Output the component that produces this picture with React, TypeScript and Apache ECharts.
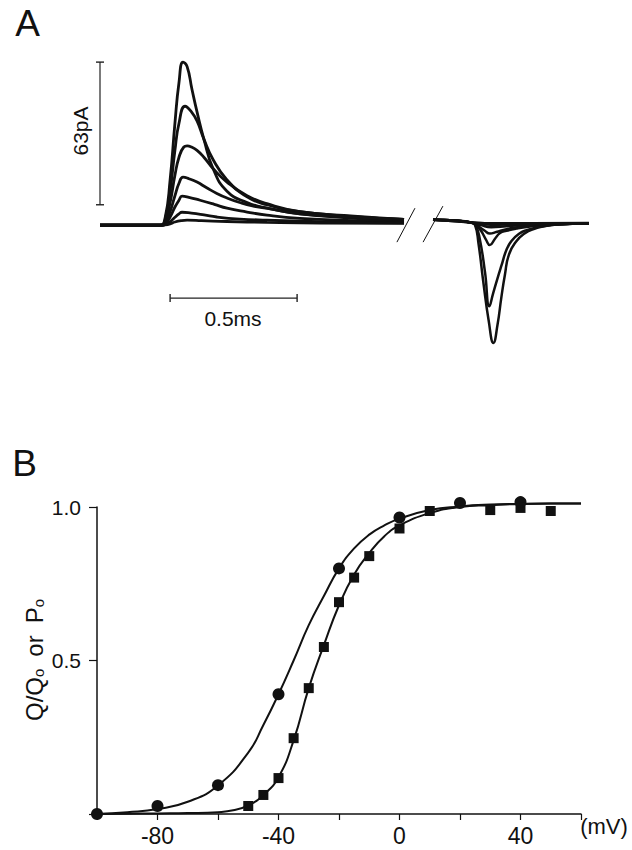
import React, { useEffect, useRef } from 'react';
import * as echarts from 'echarts';

const FONT = '"Liberation Sans", Arial, Helvetica, sans-serif';
const INK = '#111111';

// ---------- Panel A: gating current traces (time in ms, current in pA) ----------
const onTrace1 = [[0, 0], [0.236, 0], [0.256, 3], [0.276, 20], [0.295, 45], [0.311, 63], [0.327, 72], [0.343, 70], [0.362, 60], [0.382, 50], [0.409, 38], [0.445, 25], [0.5, 15], [0.579, 10], [0.657, 7.5], [0.787, 5], [1.0, 3], [1.197, 2]];
const onTrace2 = [[0, 0], [0.24, 0], [0.256, 2.2], [0.276, 15], [0.295, 33], [0.311, 45], [0.335, 52.5], [0.36, 50], [0.382, 46], [0.409, 38], [0.445, 29], [0.5, 20], [0.579, 12.5], [0.657, 9], [0.787, 6], [1.0, 3.8], [1.197, 2.5]];
const onTrace3 = [[0, 0], [0.244, 0], [0.256, 1.4], [0.276, 10], [0.295, 22], [0.311, 30], [0.33, 34.5], [0.343, 35], [0.36, 34.5], [0.382, 33], [0.409, 30], [0.445, 25], [0.5, 19], [0.579, 13], [0.657, 9.5], [0.787, 6], [1.0, 4], [1.197, 2.5]];
const onTrace4 = [[0, 0], [0.244, 0], [0.256, 0.8], [0.276, 6], [0.295, 13], [0.311, 18.5], [0.327, 21.2], [0.35, 20.5], [0.382, 19], [0.42, 16.5], [0.46, 14], [0.5, 12], [0.55, 10], [0.6, 8.5], [0.657, 7.5], [0.787, 5], [1.0, 3.5], [1.197, 2.5]];
const onTrace5 = [[0, 0], [0.244, 0], [0.256, 0.5], [0.276, 3.6], [0.295, 8], [0.311, 11], [0.323, 12.8], [0.35, 12.3], [0.394, 11], [0.45, 9.2], [0.5, 7.5], [0.579, 5.8], [0.657, 4.4], [0.787, 3], [1.0, 2], [1.197, 1.5]];
const onTrace6 = [[0, 0], [0.244, 0], [0.256, 0.2], [0.276, 1.6], [0.295, 3.5], [0.311, 5], [0.323, 5.7], [0.36, 5.3], [0.41, 4.5], [0.46, 3.6], [0.55, 2.7], [0.657, 2.2], [0.866, 1.5], [1.197, 1]];
const onTrace7 = [[0, 0], [0.244, 0], [0.256, 0.1], [0.276, 0.6], [0.295, 1.4], [0.32, 2], [0.343, 2.2], [0.4, 2], [0.5, 1.6], [0.657, 1.2], [0.866, 0.9], [1.197, 0.8]];

const offTrace1 = [[1.311, 2.4], [1.4, 2], [1.46, 1.2], [1.476, 0.3], [1.49, -8], [1.509, -25], [1.53, -42], [1.549, -52], [1.565, -44], [1.58, -32], [1.594, -22], [1.61, -13], [1.64, -7], [1.67, -3.8], [1.705, -1.8], [1.76, -0.3], [1.8, 0.3], [1.86, 0.6], [1.925, 0.7]];
const offTrace2 = [[1.311, 2.4], [1.4, 2], [1.46, 1.2], [1.478, 0], [1.495, -6], [1.516, -21], [1.533, -35.8], [1.548, -30], [1.565, -23.5], [1.581, -17.7], [1.6, -11], [1.62, -7], [1.65, -3.8], [1.68, -2.2], [1.72, -1], [1.772, 0], [1.85, 0.6], [1.925, 0.7]];
const offTrace3 = [[1.311, 2.4], [1.4, 2], [1.46, 1.2], [1.48, 0], [1.5, -2.5], [1.52, -6.5], [1.535, -8.8], [1.555, -6], [1.575, -3.5], [1.6, -2.5], [1.64, -1.5], [1.7, -0.5], [1.78, 0.3], [1.925, 0.7]];
const offTrace4 = [[1.311, 2.4], [1.4, 2], [1.46, 1.2], [1.49, -0.5], [1.515, -2.5], [1.535, -3.7], [1.56, -3], [1.6, -1.8], [1.65, -0.8], [1.72, 0], [1.8, 0.4], [1.925, 0.7]];
const offTrace5 = [[1.311, 2.4], [1.4, 2], [1.46, 1.2], [1.5, 0], [1.54, -0.9], [1.6, -0.5], [1.7, 0.2], [1.8, 0.5], [1.925, 0.7]];
const offTrace6 = [[1.311, 2.4], [1.46, 1.2], [1.54, 0.2], [1.65, 0.5], [1.925, 0.8]];
const offTrace7 = [[1.311, 2.4], [1.46, 1.3], [1.54, 0.8], [1.7, 0.8], [1.925, 0.9]];

const onTraces = [onTrace1, onTrace2, onTrace3, onTrace4, onTrace5, onTrace6, onTrace7];
const offTraces = [offTrace1, offTrace2, offTrace3, offTrace4, offTrace5, offTrace6, offTrace7];

// scale bars (63 pA, 0.5 ms) and axis break marks, in data units
const currentBar = [[0, 9], [0, 72]];
const timeBar = [[0.276, -32.2], [0.776, -32.2]];
const breakMark1 = [[1.169, -7.5], [1.24, 7.5]];
const breakMark2 = [[1.272, -7.5], [1.35, 8.4]];

// ---------- Panel B: charge (circles) and open probability (squares) vs voltage ----------
const circleV = [-100, -80, -60, -40, -20, 0, 20, 40];
const circleQ = [0.0, 0.026, 0.094, 0.39, 0.8, 0.966, 1.013, 1.016];
const squareV = [-50, -45, -40, -35, -30, -25, -20, -15, -10, 0, 10, 30, 40, 50];
const squareP = [0.026, 0.062, 0.117, 0.247, 0.41, 0.544, 0.69, 0.77, 0.84, 0.93, 0.987, 0.99, 0.997, 0.987];

const circleFitV = [-100, -90, -80, -70, -60, -50, -45, -40, -35, -30, -25, -20, -15, -10, -5, 0, 10, 20, 30, 40, 50, 60];
const circleFitQ = [0.0, 0.006, 0.016, 0.04, 0.093, 0.2, 0.29, 0.39, 0.5, 0.615, 0.71, 0.8, 0.865, 0.91, 0.94, 0.962, 0.99, 1.002, 1.008, 1.01, 1.011, 1.011];
const squareFitV = [-100, -90, -80, -70, -60, -55, -50, -45, -40, -35, -30, -25, -20, -15, -10, -5, 0, 10, 20, 30, 40, 50, 60];
const squareFitP = [0.0, 0.001, 0.002, 0.003, 0.006, 0.012, 0.028, 0.062, 0.12, 0.24, 0.41, 0.55, 0.68, 0.78, 0.85, 0.905, 0.94, 0.98, 1.0, 1.006, 1.01, 1.011, 1.011];

const xTickLabels = [-80, -40, 0, 40];
const yTickLabels: Record<string, string> = { '0.5': '0.5', '1': '1.0' };

const zip = (xs: number[], ys: number[]) => xs.map((x, i) => [x, ys[i]]);

export default function App() {
  const ref = useRef<HTMLDivElement>(null);

  useEffect(() => {
    if (!ref.current) return;
    const chart = echarts.init(ref.current, undefined, { renderer: 'svg' });

    const traceSeries = [...onTraces, ...offTraces].map((d, i) => ({
      type: 'line',
      xAxisIndex: 0,
      yAxisIndex: 0,
      data: d,
      symbol: 'none',
      smooth: 0.5,
      lineStyle: { color: INK, width: i < onTraces.length ? 2.8 : 2.5 },
      silent: true,
    }));

    const textBase = { fontFamily: FONT, fill: INK };

    chart.setOption({
      animation: false,
      backgroundColor: '#ffffff',
      grid: [
        { left: 100, top: 44, width: 508, height: 317, containLabel: false, outerBoundsMode: 'none' },
        { left: 97, right: 51, top: 507, bottom: 36, containLabel: false, outerBoundsMode: 'none' },
      ],
      xAxis: [
        { gridIndex: 0, type: 'value', min: 0, max: 2, show: false },
        {
          gridIndex: 1,
          type: 'value',
          min: -100,
          max: 60,
          interval: 20,
          axisLine: { show: true, onZero: false, lineStyle: { color: INK, width: 1.5 } },
          axisTick: { show: true, length: 6, lineStyle: { color: INK, width: 1.2 } },
          splitLine: { show: false },
          axisLabel: {
            margin: 10,
            fontSize: 23,
            fontFamily: FONT,
            color: INK,
            formatter: (v: number) => (xTickLabels.includes(v) ? String(v) : ''),
          },
        },
      ],
      yAxis: [
        { gridIndex: 0, type: 'value', min: -60, max: 80, show: false },
        {
          gridIndex: 1,
          type: 'value',
          min: 0,
          max: 1,
          interval: 0.5,
          axisLine: { show: true, onZero: false, lineStyle: { color: INK, width: 1.5 } },
          axisTick: { show: true, length: 8, lineStyle: { color: INK, width: 1.2 } },
          splitLine: { show: false },
          axisLabel: {
            margin: 16,
            fontSize: 21,
            fontFamily: FONT,
            color: INK,
            formatter: (v: number) => yTickLabels[String(v)] || '',
          },
        },
      ],
      series: [
        ...traceSeries,
        {
          type: 'line', xAxisIndex: 0, yAxisIndex: 0, data: currentBar,
          symbol: 'rect', symbolSize: [8, 1.4], showSymbol: true,
          lineStyle: { color: '#222', width: 1.2 }, itemStyle: { color: '#222' }, silent: true,
        },
        {
          type: 'line', xAxisIndex: 0, yAxisIndex: 0, data: timeBar,
          symbol: 'rect', symbolSize: [1.4, 8], showSymbol: true,
          lineStyle: { color: '#222', width: 1.2 }, itemStyle: { color: '#222' }, silent: true,
        },
        {
          type: 'line', xAxisIndex: 0, yAxisIndex: 0, data: breakMark1, symbol: 'none',
          lineStyle: { color: INK, width: 1 }, silent: true,
        },
        {
          type: 'line', xAxisIndex: 0, yAxisIndex: 0, data: breakMark2, symbol: 'none',
          lineStyle: { color: INK, width: 1 }, silent: true,
        },
        {
          type: 'line', xAxisIndex: 1, yAxisIndex: 1, data: zip(circleFitV, circleFitQ),
          symbol: 'none', smooth: 0.5, clip: false,
          lineStyle: { color: INK, width: 2 }, silent: true,
        },
        {
          type: 'line', xAxisIndex: 1, yAxisIndex: 1, data: zip(squareFitV, squareFitP),
          symbol: 'none', smooth: 0.5, clip: false,
          lineStyle: { color: INK, width: 2 }, silent: true,
        },
        {
          type: 'scatter', xAxisIndex: 1, yAxisIndex: 1, data: zip(squareV, squareP),
          symbol: 'rect', symbolSize: 10, clip: false, itemStyle: { color: INK, opacity: 1 }, silent: true,
        },
        {
          type: 'scatter', xAxisIndex: 1, yAxisIndex: 1, data: zip(circleV, circleQ),
          symbol: 'circle', symbolSize: 12, clip: false, itemStyle: { color: INK, opacity: 1 }, silent: true,
        },
      ],
      graphic: [
        { type: 'text', x: 27.5, y: 23.5, style: { ...textBase, text: 'A', fontSize: 37, align: 'center', verticalAlign: 'middle' } },
        { type: 'text', x: 24.5, y: 463.5, style: { ...textBase, text: 'B', fontSize: 37, align: 'center', verticalAlign: 'middle' } },
        { type: 'text', x: 80.5, y: 131, rotation: Math.PI / 2, style: { ...textBase, text: '63pA', fontSize: 21, align: 'center', verticalAlign: 'middle' } },
        { type: 'text', x: 233, y: 318, style: { ...textBase, text: '0.5ms', fontSize: 21, align: 'center', verticalAlign: 'middle' } },
        { type: 'text', x: 604, y: 826, style: { ...textBase, text: '(mV)', fontSize: 22, align: 'center', verticalAlign: 'middle' } },
        {
          type: 'text', x: 34, y: 660, rotation: Math.PI / 2,
          style: {
            ...textBase,
            text: 'Q/Q{s|o}\u2002or\u2002P{s|o}',
            fontSize: 24,
            align: 'center',
            verticalAlign: 'middle',
            rich: { s: { fontSize: 15, fontFamily: FONT, fill: INK, verticalAlign: 'bottom', padding: [8, 0, 0, 0] } },
          },
        },
      ],
    });

    return () => chart.dispose();
  }, []);

  return <div ref={ref} style={{ width: 632, height: 850, position: 'absolute', left: 0, top: 0 }} />;
}
